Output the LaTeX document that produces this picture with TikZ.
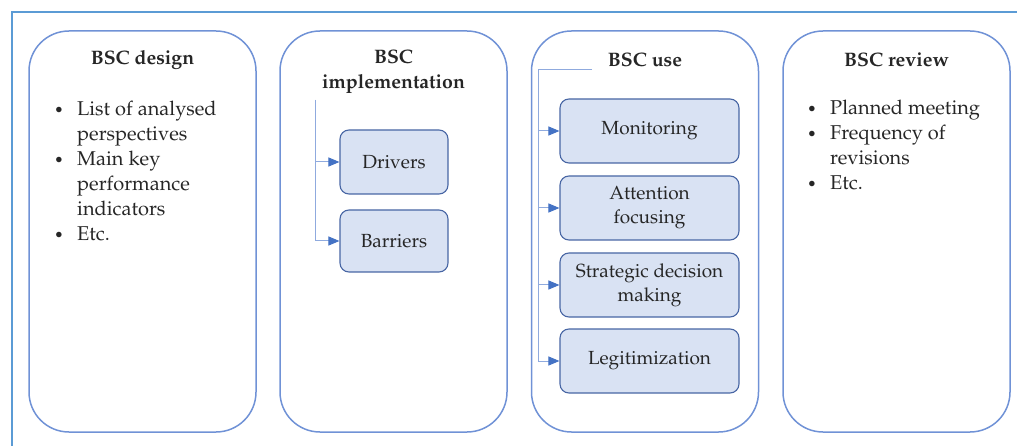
\documentclass[tikz,border=0pt]{standalone}
\usepackage[T1]{fontenc}
\usepackage{mathpazo}
\usepackage{tikz}
\usetikzlibrary{arrows.meta,positioning}

\definecolor{frameblue}{RGB}{91,155,213}
\definecolor{colblue}{RGB}{112,146,214}
\definecolor{boxfill}{RGB}{217,226,243}
\definecolor{boxline}{RGB}{72,102,164}
\definecolor{treeblue}{RGB}{143,170,222}
\definecolor{tipblue}{RGB}{68,114,196}

\newcommand{\bul}{\makebox[25pt][l]{\hspace*{2pt}\scalebox{0.8}{\textbullet}}}

\begin{document}
\begin{tikzpicture}[x=1pt,y=-1pt,
    column/.style={draw=colblue,line width=1.5pt,rounded corners=40pt,minimum width=227pt,minimum height=401pt},
    title/.style={font=\fontsize{19.5}{25}\selectfont\bfseries,align=center,text=black!85},
    items/.style={font=\fontsize{20}{25}\selectfont,align=left,anchor=north west,text=black!85,inner sep=0pt},
    sub/.style={draw=boxline,fill=boxfill,line width=1.1pt,rounded corners=9pt,font=\fontsize{19}{24}\selectfont,align=center,text=black!85},
    arr/.style={draw=treeblue,line width=1pt,-{Triangle[length=11pt,width=9pt,fill=tipblue,color=tipblue]}},
    tree/.style={draw=treeblue,line width=1pt}]
    \useasboundingbox (0,0) rectangle (1017,446);

    % frame
    \draw[frameblue,line width=1.6pt] (12,446) -- (12,12) -- (1017,12);

    % the four columns
    \node[column] (design) at (142.5,231.5) {};
    \node[column] (impl)   at (393.5,231.5) {};
    \node[column] (use)    at (645,231.5) {};
    \node[column] (review) at (896.5,231.5) {};

    \node[title] (tdesign) at (142.5,60) {BSC design};
    \node[title] (timpl)   at (393.5,72) {BSC\\implementation};
    \node[title] (tuse)    at (645,60) {BSC use};
    \node[title] (treview) at (896.5,60) {BSC review};

    % bullet lists
    \node[items] (ldesign) at (52,101) {\bul List of analysed\\
        \hspace*{25pt}perspectives\\
        \bul Main key\\
        \hspace*{25pt}performance\\
        \hspace*{25pt}indicators\\
        \bul Etc.};
    \node[items] (lreview) at (805,100) {\bul Planned meeting\\
        \bul Frequency of\\
        \hspace*{25pt}revisions\\
        \bul Etc.};

    % implementation
    \node[sub,minimum width=108pt,minimum height=64pt] (drivers)  at (394,162) {Drivers};
    \node[sub,minimum width=108pt,minimum height=62pt] (barriers) at (394,241) {Barriers};
    \coordinate (t2) at (315,100);
    \draw[arr] (t2) |- (drivers.west);
    \draw[arr] (t2) |- (barriers.west);

    % use
    \node[sub,minimum width=179pt,minimum height=64pt] (monitor) at (649.5,131) {Monitoring};
    \node[sub,minimum width=179pt,minimum height=64pt] (attent)  at (649.5,208) {Attention\\focusing};
    \node[sub,minimum width=179pt,minimum height=64pt] (strat)   at (649.5,285) {Strategic decision\\making};
    \node[sub,minimum width=179pt,minimum height=64pt] (legit)   at (649.5,361) {Legitimization};
    \coordinate (t3) at (592,70);
    \coordinate (t3b) at (538,70);
    \draw[tree] (t3) -- (t3b);
    \draw[arr] (t3b) |- (monitor.west);
    \draw[arr] (t3b) |- (attent.west);
    \draw[arr] (t3b) |- (strat.west);
    \draw[arr] (t3b) |- (legit.west);
\end{tikzpicture}
\end{document}
